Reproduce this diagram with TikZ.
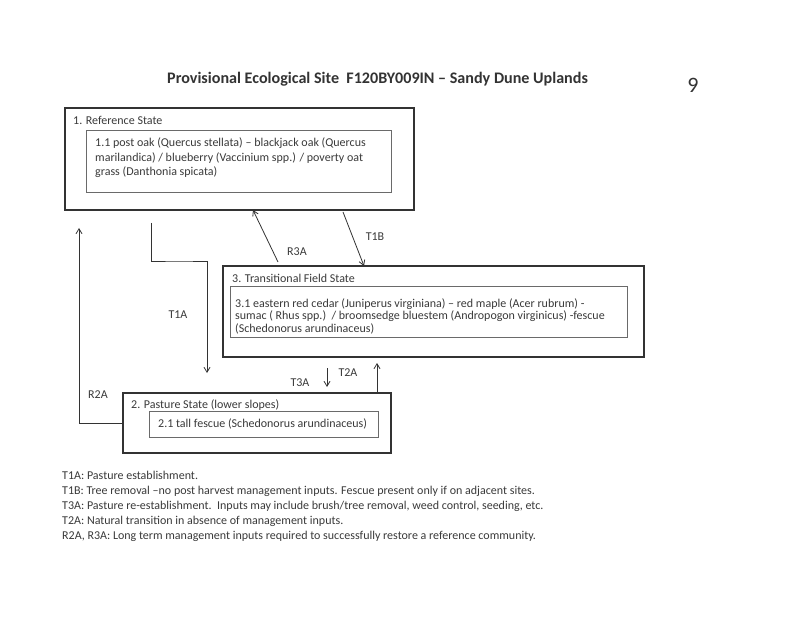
\documentclass[tikz,border=0pt]{standalone}
\usepackage{fontspec}
\setmainfont{Carlito}
\usetikzlibrary{arrows.meta,calc}
\definecolor{ink}{HTML}{333333}
\definecolor{txt}{HTML}{3A3A3A}
\definecolor{inner}{HTML}{6A6A6A}
\begin{document}
\begin{tikzpicture}[x=1pt,y=-1pt,
  outerbox/.style={draw=ink,line width=1.4pt,inner sep=0pt,outer sep=0pt,anchor=north west},
  innerbox/.style={draw=inner,line width=0.9pt,inner sep=0pt,outer sep=0pt,anchor=north west},
  lbl/.style={text=txt,font=\fontsize{12}{14}\selectfont,inner sep=0pt},
  boxtxt/.style={text=txt,font=\fontsize{12}{14.2}\selectfont,inner sep=0pt,anchor=north west,align=left},
  conn/.style={draw=ink,line width=0.8pt,-{Straight Barb[length=5pt,width=6pt]}},
  legend/.style={text=txt,font=\fontsize{12}{15}\selectfont,inner sep=0pt,anchor=north west,align=left}]
\useasboundingbox[fill=white] (0,0) rectangle (800,617);

\node[text=ink,font=\bfseries\fontsize{16.1}{18}\selectfont,anchor=west,inner sep=0pt] (title) at (167,79) {Provisional Ecological Site\ \ F120BY009IN – Sandy Dune Uplands};
\node[text=ink,font=\fontsize{22}{24}\selectfont,inner sep=0pt] (pg) at (693,85) {9};

% Box 1
\node[outerbox,minimum width=349pt,minimum height=102pt] (b1) at (65,108) {};
\node[innerbox,minimum width=305pt,minimum height=62pt] (b1i) at (86,130) {};
\node[lbl,anchor=west] (b1t) at (73,120) {1. Reference State};
\node[boxtxt] (b1x) at (95,138) {1.1 post oak (Quercus stellata) – blackjack oak (Quercus\\marilandica) / blueberry (Vaccinium spp.) / poverty oat\\grass (Danthonia spicata)};

% Box 3
\node[outerbox,minimum width=421pt,minimum height=91pt] (b3) at (223,266) {};
\node[innerbox,minimum width=397pt,minimum height=51pt] (b3i) at (230,286) {};
\node[lbl,anchor=west] (b3t) at (232,278) {3. Transitional Field State};
\node[boxtxt,font=\fontsize{12}{12.4}\selectfont] (b3x) at (235,298.5) {3.1 eastern red cedar (Juniperus virginiana) – red maple (Acer rubrum) -\\sumac ( Rhus spp.)\ \ / broomsedge bluestem (Andropogon virginicus) -fescue\\(Schedonorus arundinaceus)};

% Box 2
\node[outerbox,minimum width=268pt,minimum height=60pt] (b2) at (123,393) {};
\node[innerbox,minimum width=229pt,minimum height=26pt] (b2i) at (149,411) {};
\node[lbl,anchor=west] (b2t) at (131,405) {2. Pasture State (lower slopes)};
\node[lbl,anchor=west] (b2x) at (158,424) {2.1 tall fescue (Schedonorus arundinaceus)};

% Connectors
\coordinate (r3s) at ($(b3.north west)+(55,-4)$);
\coordinate (r3e) at ($(b1.south west)+(188,0)$);
\draw[conn] (r3s) -- (r3e);
\coordinate (t1bs) at ($(b1.south west)+(278,2)$);
\coordinate (t1be) at ($(b3.north west)+(141,0)$);
\draw[conn] (t1bs) -- (t1be);
\coordinate (t1as) at ($(b1.south west)+(86,13)$);
\coordinate (t1ae) at ($(b2.north west)+(84,-20)$);
\draw[conn] (t1as) |- ($(t1as)!0.5!(t1ae)+(0,-37)$) -| (t1ae);
\coordinate (r2as) at ($(b2.north west)+(0,30)$);
\coordinate (r2ae) at ($(b1.south west)+(14,18)$);
\draw[conn] (r2as) -| (r2ae);
\coordinate (t3as) at ($(b3.south west)+(104,11)$);
\coordinate (t3ae) at ($(b2.north west)+(204,-6)$);
\draw[conn] (t3as) -- (t3ae);
\coordinate (t2as) at ($(b2.north west)+(254,0)$);
\coordinate (t2ae) at ($(b3.south west)+(154,6)$);
\draw[conn] (t2as) -- (t2ae);

\node[lbl] (lr3a) at (297,252) {R3A};
\node[lbl] (lt1b) at (375,237) {T1B};
\node[lbl] (lt1a) at (178,315) {T1A};
\node[lbl] (lr2a) at (98,395) {R2A};
\node[lbl] (lt3a) at (300,383) {T3A};
\node[lbl] (lt2a) at (348,373) {T2A};

\node[legend] (leg) at (62,471) {T1A: Pasture establishment.\\
T1B: Tree removal –no post harvest management inputs. Fescue present only if on adjacent sites.\\
T3A: Pasture re-establishment.\ \ Inputs may include brush/tree removal, weed control, seeding, etc.\\
T2A: Natural transition in absence of management inputs.\\
R2A, R3A: Long term management inputs required to successfully restore a reference community.};
\end{tikzpicture}
\end{document}
